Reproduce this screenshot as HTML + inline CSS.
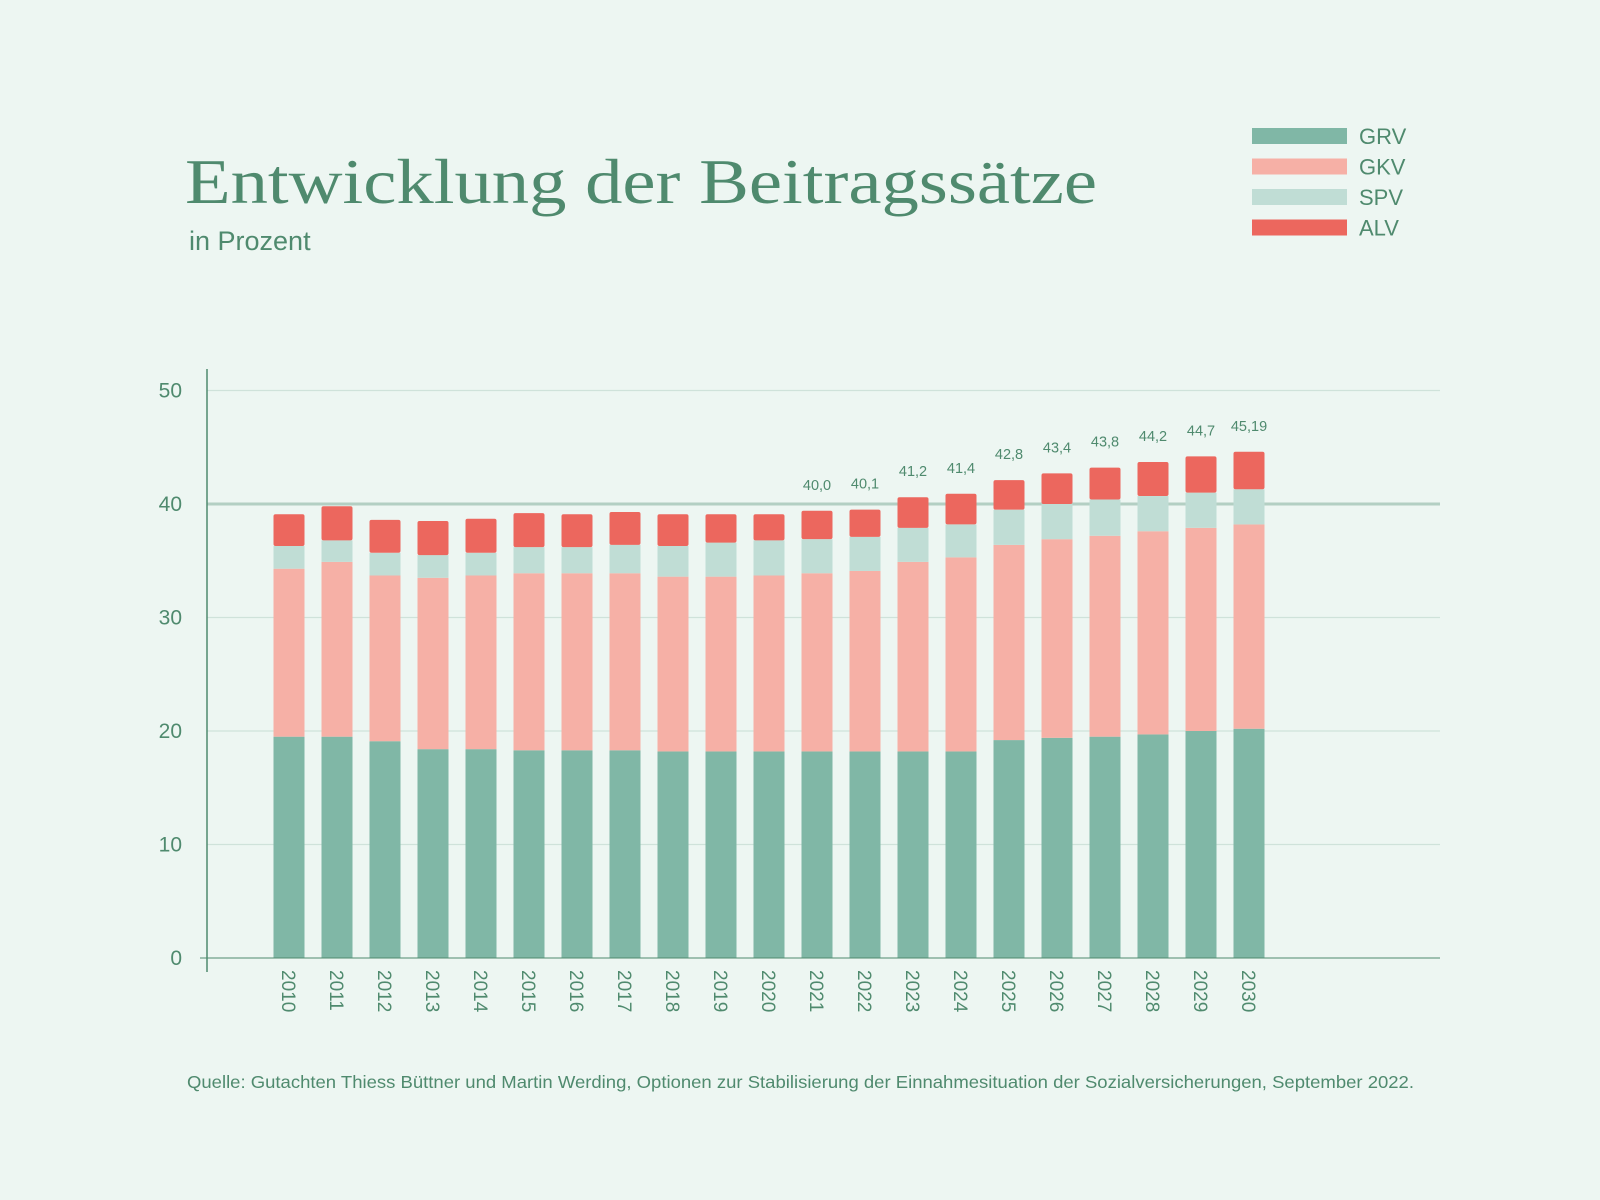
<!DOCTYPE html>
<html><head><meta charset="utf-8"><style>
html,body{margin:0;padding:0;background:#edf6f2;}
svg{display:block;font-family:"Liberation Sans",sans-serif;}
</style></head><body>
<svg id="chart" width="1600" height="1200" viewBox="0 0 1600 1200">
<rect width="1600" height="1200" fill="#edf6f2"/>
<text x="185" y="203" font-family="Liberation Serif, serif" font-size="64" fill="#4f8a6e" textLength="912" lengthAdjust="spacingAndGlyphs">Entwicklung der Beitragssätze</text>
<text x="189" y="250" font-size="27" fill="#4f8a6e">in Prozent</text>
<g id="legend"></g>
<g id="grid"></g>
<g id="bars"></g>
<g id="labels"></g>
<line x1="207" y1="369" x2="207" y2="972" stroke="#4f8a6e" stroke-width="1.5"/>
<line x1="200" y1="958" x2="1440" y2="958" stroke="#4f8a6e" stroke-width="1"/>
<text x="187" y="1088" font-size="17.5" fill="#4f8a6e" textLength="1227" lengthAdjust="spacingAndGlyphs">Quelle: Gutachten Thiess Büttner und Martin Werding, Optionen zur Stabilisierung der Einnahmesituation der Sozialversicherungen, September 2022.</text>
</svg>
<script>
const years=["2010","2011","2012","2013","2014","2015","2016","2017","2018","2019","2020","2021","2022","2023","2024","2025","2026","2027","2028","2029","2030"];
const grv=[19.5,19.5,19.1,18.4,18.4,18.3,18.3,18.3,18.2,18.2,18.2,18.2,18.2,18.2,18.2,19.2,19.4,19.5,19.7,20.0,20.2];
const gkv=[14.8,15.4,14.6,15.1,15.3,15.6,15.6,15.6,15.4,15.4,15.5,15.7,15.9,16.7,17.1,17.2,17.5,17.7,17.9,17.9,18.0];
const spv=[2.0,1.9,2.0,2.0,2.0,2.3,2.3,2.5,2.7,3.0,3.1,3.0,3.0,3.0,2.9,3.1,3.1,3.2,3.1,3.1,3.1];
const alv=[2.8,3.0,2.9,3.0,3.0,3.0,2.9,2.9,2.8,2.5,2.3,2.5,2.4,2.7,2.7,2.6,2.7,2.8,3.0,3.2,3.3];
const totalLabels=["","","","","","","","","","","","40,0","40,1","41,2","41,4","42,8","43,4","43,8","44,2","44,7","45,19"];
const yTicks=[0,10,20,30,40,50];
const seriesNames=["GRV","GKV","SPV","ALV"];
const colors=["#80b7a6","#f6b0a6","#c0ddd5","#ec675e"];
const NS="http://www.w3.org/2000/svg";
const y=v=>958-v*11.35;
const x=i=>289+i*48;
const bw=31;
function mk(tag,attrs,parent){const e=document.createElementNS(NS,tag);for(const k in attrs)e.setAttribute(k,attrs[k]);parent.appendChild(e);return e;}
const grid=document.getElementById('grid');
yTicks.forEach(t=>{
  if(t>0){const l=mk('line',{x1:207,x2:1440,y1:y(t),y2:y(t),stroke:t===40?'#b3cfc3':'#cfe2da','stroke-width':t===40?3:1.2},grid);
  
  }
  const tx=mk('text',{x:182,y:y(t)+7,'text-anchor':'end','font-size':21,fill:'#4f8a6e'},grid);
  tx.textContent=t;
  
  
});
const bars=document.getElementById('bars');
const labels=document.getElementById('labels');
const series=[grv,gkv,spv,alv];
years.forEach((yr,i)=>{
  let base=0;
  series.forEach((s,k)=>{
    const top=base+s[i];
    const r=mk('rect',{x:x(i)-bw/2,y:y(top),width:bw,height:y(base)-y(top),fill:colors[k],rx:k===3?2:0},bars);
    
    
    base=top;
  });
  if(totalLabels[i]){
    const t=mk('text',{x:x(i),y:y(base)-21,'text-anchor':'middle','font-size':14.5,fill:'#4f8a6e'},labels);
    t.textContent=totalLabels[i];
    
    
  }
  const xl=mk('text',{transform:`translate(${x(i)-7},970) rotate(90)`,'font-size':19,fill:'#4f8a6e'},labels);
  xl.textContent=yr;
  
  
});
const lg=document.getElementById('legend');
seriesNames.forEach((n,k)=>{
  const cy=136+k*30.5;
  const r=mk('rect',{x:1252,y:cy-8,width:95,height:16,fill:colors[k]},lg);
  
  
  const t=mk('text',{x:1359,y:cy+8,'font-size':22,fill:'#4f8a6e'},lg);
  t.textContent=n;
  
  
});
</script>
</body></html>
